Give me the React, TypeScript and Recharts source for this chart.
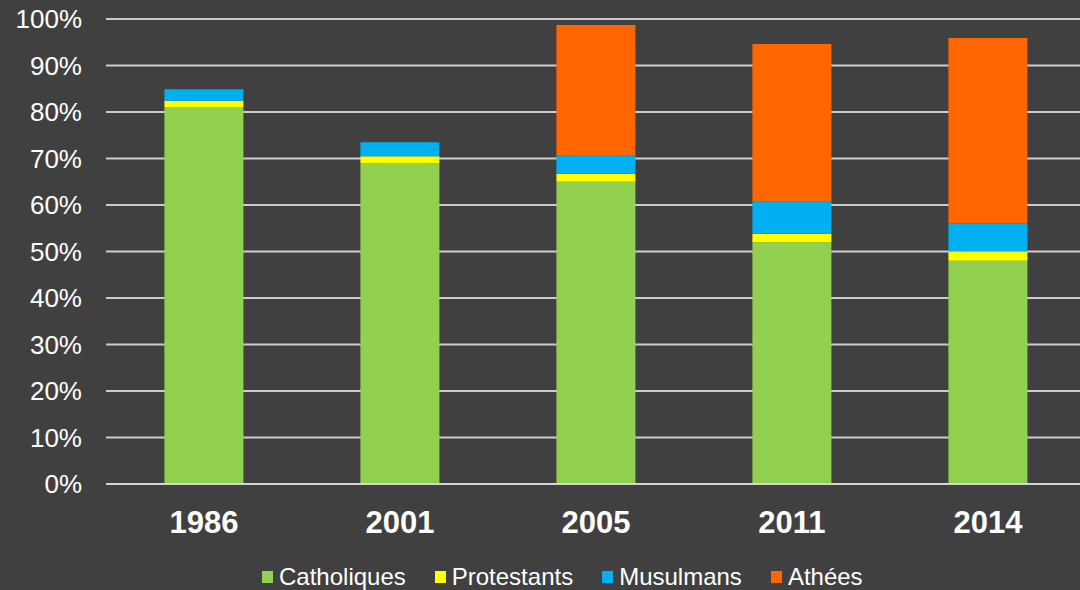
import { BarChart, Bar, XAxis, YAxis, CartesianGrid } from "recharts";

const years = ["1986", "2001", "2005", "2011", "2014"];
const catholiques = [81.1, 69.0, 65.0, 52.0, 48.0];
const protestants = [1.3, 1.5, 1.7, 1.8, 2.0];
const musulmans = [2.5, 3.0, 4.0, 7.0, 6.0];
const athees = [0, 0, 28.0, 33.8, 39.9];
const yTicks = [0, 10, 20, 30, 40, 50, 60, 70, 80, 90, 100];

const series = [
  { key: "catholiques", name: "Catholiques", color: "#92D050" },
  { key: "protestants", name: "Protestants", color: "#FFFF00" },
  { key: "musulmans", name: "Musulmans", color: "#00B0F0" },
  { key: "athees", name: "Athées", color: "#FF6600" },
];

const data = years.map((year, i) => ({
  year,
  catholiques: catholiques[i],
  protestants: protestants[i],
  musulmans: musulmans[i],
  athees: athees[i],
}));

const font = "'Liberation Sans', Arial, sans-serif";

export default function App() {
  return (
    <div
      style={{
        position: "fixed",
        left: 0,
        top: 0,
        width: 1080,
        height: 590,
        overflow: "hidden",
        background: "#404040",
        fontFamily: font,
      }}
    >
      <BarChart
        width={1086}
        height={590}
        data={data}
        margin={{ top: 19, right: 0, bottom: 36, left: 0 }}
        barCategoryGap="29.8%"
      >
        <CartesianGrid vertical={false} stroke="#cccccc" strokeWidth={1.8} />
        <XAxis
          dataKey="year"
          height={70}
          tickLine={false}
          tickMargin={21}
          axisLine={{ stroke: "#d4d4d4", strokeWidth: 2 }}
          tick={{ fill: "#ffffff", fontSize: 31, fontWeight: "bold", fontFamily: font }}
        />
        <YAxis
          width={106}
          domain={[0, 100]}
          ticks={yTicks}
          interval={0}
          axisLine={false}
          tickLine={false}
          tickMargin={18}
          tickFormatter={(v) => `${v}%`}
          tick={{ fill: "#ffffff", fontSize: 26, fontFamily: font }}
        />
        {series.map((s) => (
          <Bar
            key={s.key}
            dataKey={s.key}
            name={s.name}
            stackId="a"
            fill={s.color}
            isAnimationActive={false}
          />
        ))}
      </BarChart>
      <div
        style={{
          position: "absolute",
          left: 262,
          top: 563,
          display: "flex",
          alignItems: "center",
          color: "#ffffff",
          fontSize: 24,
          lineHeight: "28px",
          whiteSpace: "nowrap",
        }}
      >
        {series.map((s, i) => (
          <div
            key={s.key}
            style={{ display: "flex", alignItems: "center", marginLeft: i === 0 ? 0 : 29 }}
          >
            <span
              style={{
                display: "inline-block",
                width: 11,
                height: 12,
                background: s.color,
                marginRight: 6,
              }}
            />
            <span>{s.name}</span>
          </div>
        ))}
      </div>
    </div>
  );
}
